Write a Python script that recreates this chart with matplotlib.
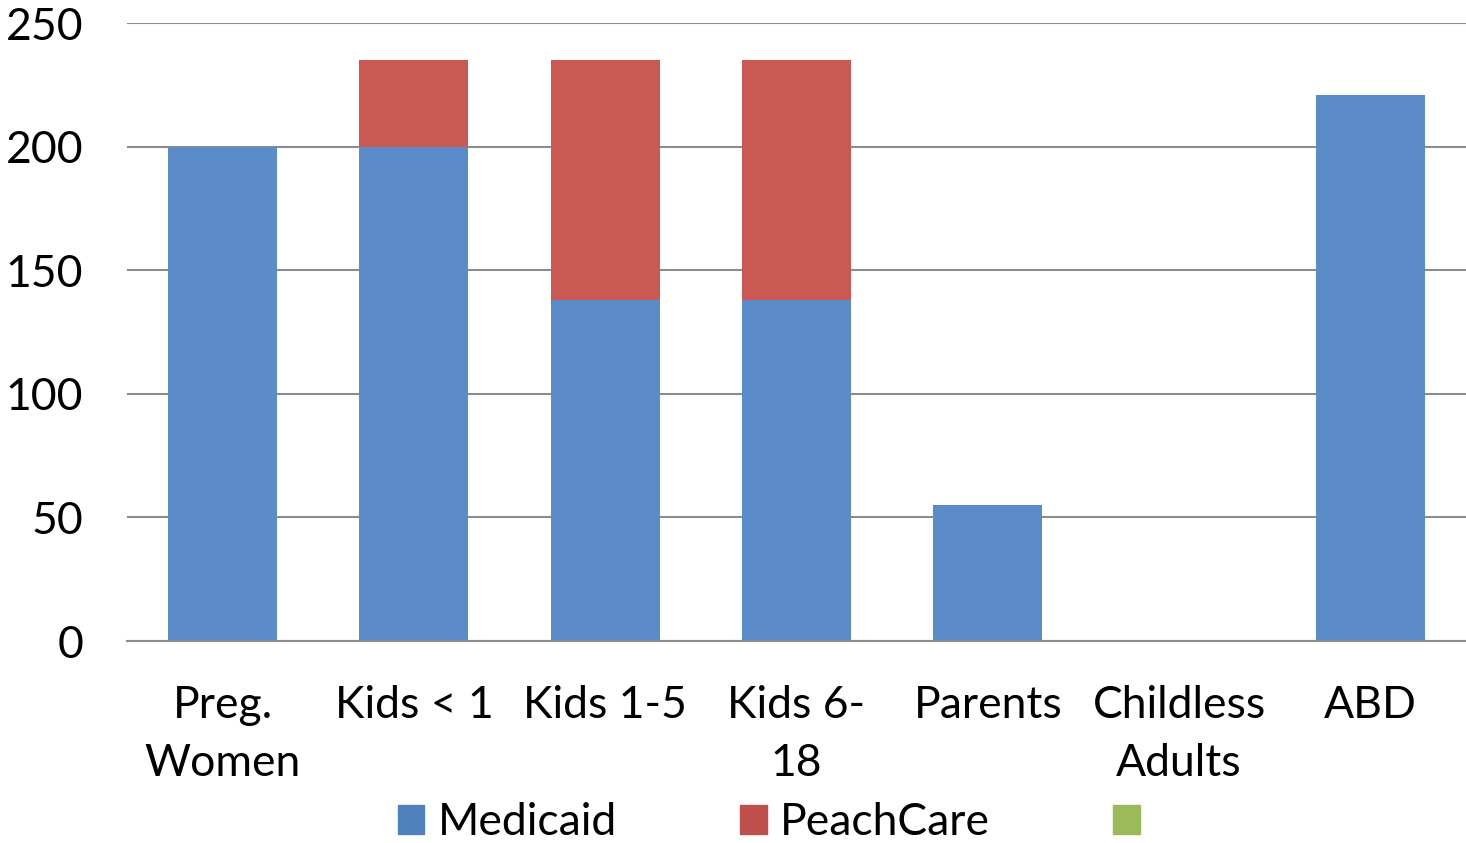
import matplotlib.pyplot as plt
from matplotlib.patches import Patch

plt.rcParams['font.family'] = ['Lato', 'DejaVu Sans']

# Data
categories = ['Preg.\nWomen', 'Kids < 1', 'Kids 1-5', 'Kids 6-\n18', 'Parents', 'Childless\nAdults', 'ABD']
medicaid = [200, 200, 138, 138, 55, 0, 221]
peachcare = [0, 35, 97, 97, 0, 0, 0]
other = [0, 0, 0, 0, 0, 0, 0]

blue = '#5B8BC8'
red = '#CB5953'
green = '#9BBB59'

fig = plt.figure(figsize=(14.66, 8.43), dpi=100)
ax = fig.add_axes([0.0866, 0.2396, 0.9134, 0.7331])

x = range(len(categories))
bottoms2 = [m + p for m, p in zip(medicaid, peachcare)]
ax.bar(x, medicaid, width=0.57, color=blue, zorder=3)
ax.bar(x, peachcare, width=0.57, bottom=medicaid, color=red, zorder=3)
ax.bar(x, other, width=0.57, bottom=bottoms2, color=green, zorder=3)

ax.set_xlim(-0.5, len(categories) - 0.5)
ax.set_ylim(0, 250)
ax.set_yticks([0, 50, 100, 150, 200, 250])
ax.set_xticks(list(x))
ax.set_xticklabels(categories, fontsize=32, linespacing=1.5)
ax.tick_params(axis='y', length=0, labelsize=32, pad=31.5)
ax.tick_params(axis='x', length=0, pad=32)

ax.grid(axis='y', color='#8C8C8C', linewidth=1.5, zorder=0)
for s in ['top', 'right', 'left']:
    ax.spines[s].set_visible(False)
ax.spines['bottom'].set_color('#8C8C8C')
ax.spines['bottom'].set_linewidth(1.5)
ax.spines['bottom'].set_zorder(4)

handles = [Patch(color='#4F81BD'), Patch(color='#C0504D'), Patch(color=green)]
fig.legend(handles, ['Medicaid', 'PeachCare', ''], loc='center', bbox_to_anchor=(0.529, 0.024),
           ncol=3, frameon=False, fontsize=32, handlelength=0.6, handleheight=0.6,
           handletextpad=0.3, columnspacing=2.77, borderpad=0, borderaxespad=0)

fig.savefig('out.png', dpi=100)
